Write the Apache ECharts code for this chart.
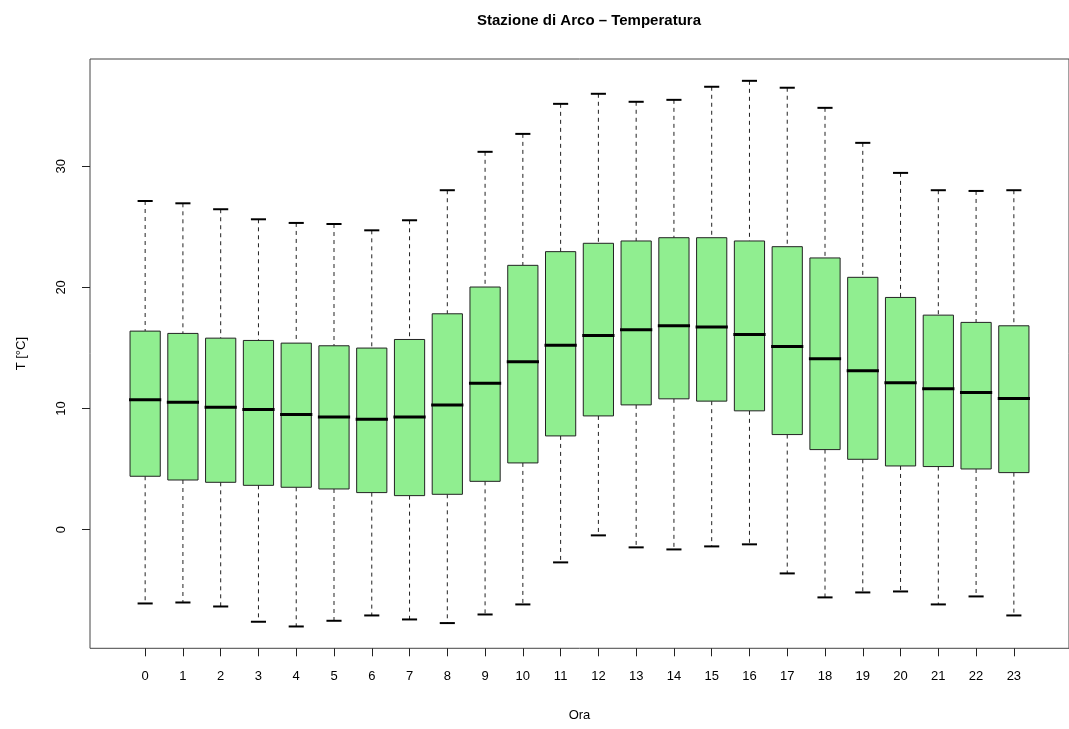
<!DOCTYPE html>
<html>
<head>
<meta charset="utf-8">
<style>html,body{margin:0;padding:0;background:#fff}#c{width:1069px;height:729px}</style>
<script src="https://cdn.jsdelivr.net/npm/echarts@6/dist/echarts.min.js"></script>
</head>
<body>
<div id="c"></div>
<script>
const hours = [0,1,2,3,4,5,6,7,8,9,10,11,12,13,14,15,16,17,18,19,20,21,22,23];
const hourLabels = hours.map(String);
const lowWhisker = [-6.09,-6.01,-6.34,-7.60,-7.99,-7.52,-7.08,-7.41,-7.71,-7.00,-6.17,-2.70,-0.47,-1.46,-1.63,-1.38,-1.21,-3.61,-5.59,-5.18,-5.10,-6.17,-5.51,-7.08];
const q1 = [4.41,4.10,3.91,3.66,3.50,3.36,3.06,2.81,2.92,3.99,5.51,7.74,9.39,10.30,10.80,10.61,9.81,7.85,6.61,5.81,5.26,5.21,5.01,4.71];
const median = [10.72,10.52,10.11,9.92,9.50,9.31,9.12,9.31,10.30,12.09,13.86,15.23,16.03,16.50,16.83,16.72,16.12,15.12,14.10,13.11,12.12,11.63,11.32,10.83];
const q3 = [16.39,16.20,15.81,15.62,15.40,15.18,14.99,15.70,17.82,20.03,21.82,22.95,23.64,23.83,24.10,24.10,23.83,23.36,22.43,20.83,19.17,17.71,17.11,16.83];
const highWhisker = [27.13,26.94,26.45,25.62,25.32,25.23,24.71,25.54,28.02,31.19,32.67,35.15,35.98,35.32,35.48,36.56,37.05,36.48,34.82,31.93,29.45,28.02,27.96,28.02];
const yTicks = [0,10,20,30];

const data = hours.map((h,i)=>[h, lowWhisker[i], q1[i], median[i], q3[i], highWhisker[i]]);

// R-style axis extents (4% padding)
const dMin = Math.min(...lowWhisker), dMax = Math.max(...highWhisker);
const yPad = (dMax - dMin) * 0.04;
const xPad = (hours.length) * 0.04;

const FONT = '"Liberation Sans", Arial, Helvetica, sans-serif';

function renderItem(params, api) {
  const x = api.value(0);
  const lo = api.coord([x, api.value(1)]);
  const b1 = api.coord([x, api.value(2)]);
  const md = api.coord([x, api.value(3)]);
  const b3 = api.coord([x, api.value(4)]);
  const hi = api.coord([x, api.value(5)]);
  const band = api.size([1, 0])[0];
  const hw = band * 0.4, cw = band * 0.2;
  const cx = lo[0];
  const dash = {stroke:'#222', lineWidth:1, lineDash:[4,4]};
  return {
    type:'group',
    children:[
      {type:'line', shape:{x1:cx,y1:hi[1],x2:cx,y2:b3[1]}, style:dash},
      {type:'line', shape:{x1:cx,y1:b1[1],x2:cx,y2:lo[1]}, style:dash},
      {type:'line', shape:{x1:cx-cw,y1:hi[1],x2:cx+cw,y2:hi[1]}, style:{stroke:'#000',lineWidth:2}},
      {type:'line', shape:{x1:cx-cw,y1:lo[1],x2:cx+cw,y2:lo[1]}, style:{stroke:'#000',lineWidth:2}},
      {type:'rect', shape:{x:cx-hw,y:b3[1],width:2*hw,height:b1[1]-b3[1]}, style:{fill:'#90EE90',stroke:'#222',lineWidth:1}},
      {type:'line', shape:{x1:cx-hw-1,y1:md[1],x2:cx+hw+1,y2:md[1]}, style:{stroke:'#000',lineWidth:3}}
    ]
  };
}

const chart = echarts.init(document.getElementById('c'), null, {renderer:'canvas'});
chart.setOption({
  animation:false,
  backgroundColor:'#fff',
  title:{
    text:'Stazione di Arco – Temperatura',
    left:584, top:8, textAlign:'center',
    textStyle:{fontFamily:FONT, fontSize:15, fontWeight:'bold', color:'#000'}
  },
  grid:{left:90, top:59, width:988.6, height:589.3, show:true, borderColor:'#444', borderWidth:1, backgroundColor:'transparent'},
  xAxis:{
    type:'value', min:hours[0]-0.5-xPad, max:hours[hours.length-1]+0.5+xPad,
    name:'Ora', nameLocation:'middle', nameGap:61,
    nameTextStyle:{fontFamily:FONT, fontSize:13, color:'#000'},
    splitLine:{show:false},
    axisLine:{show:false, onZero:false},
    axisTick:{show:true, length:8, lineStyle:{color:'#222'}, customValues:hours},
    axisLabel:{fontFamily:FONT, fontSize:13, color:'#000', margin:22, customValues:hours, formatter:(v)=>hourLabels[hours.indexOf(v)]}
  },
  yAxis:{
    type:'value', min:dMin-yPad, max:dMax+yPad,
    name:'T [°C]', nameLocation:'middle', nameGap:62, nameRotate:90,
    nameTextStyle:{fontFamily:FONT, fontSize:13, color:'#000'},
    splitLine:{show:false},
    axisLine:{show:false, onZero:false},
    axisTick:{show:true, length:8, lineStyle:{color:'#222'}, customValues:yTicks},
    axisLabel:{fontFamily:FONT, fontSize:13, color:'#000', margin:22, rotate:90, customValues:yTicks}
  },
  series:[{
    type:'custom',
    renderItem:renderItem,
    encode:{x:0, y:[1,2,3,4,5]},
    data:data,
    clip:false
  }]
});
</script>
</body>
</html>
